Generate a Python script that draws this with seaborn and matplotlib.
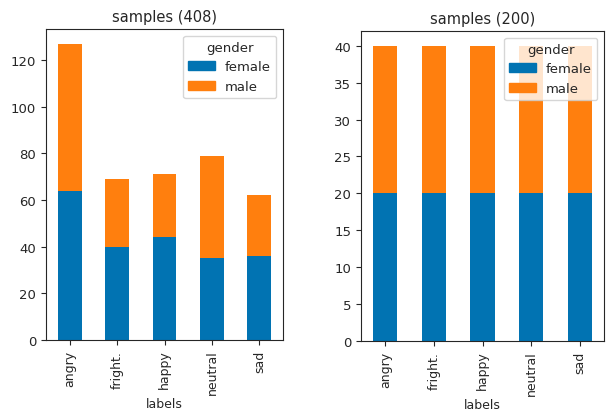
import numpy as np
import pandas as pd
import seaborn as sns
import matplotlib.pyplot as plt
from matplotlib.patches import Patch

labels = ["angry", "fright.", "happy", "neutral", "sad"]
female_all = [64, 40, 44, 35, 36]
male_all = [63, 29, 27, 44, 26]
female_bal = [20, 20, 20, 20, 20]
male_bal = [20, 20, 20, 20, 20]

blue = "#0173b2"
orange = "#ff7f0e"


def stacked(ax, female, male, title):
    df = pd.DataFrame({"labels": labels, "female": female, "male": male})
    df["total"] = df["female"] + df["male"]
    sns.barplot(data=df, x="labels", y="total", color=orange, width=0.5,
                saturation=1, linewidth=0, ax=ax)
    sns.barplot(data=df, x="labels", y="female", color=blue, width=0.5,
                saturation=1, linewidth=0, ax=ax)
    ax.set_xlim(-0.5, len(labels) - 0.5)
    ax.set_ylim(0, df["total"].max() * 1.05)
    ax.set_title(title, fontsize=10.5)
    ax.set_xlabel("labels", fontsize=9, labelpad=2)
    ax.set_ylabel("")
    ax.tick_params(axis="x", rotation=90, labelsize=9)
    ax.tick_params(axis="y", labelsize=9.5)
    handles = [Patch(color=blue, label="female"), Patch(color=orange, label="male")]
    ax.legend(handles=handles, title="gender", loc="upper right", fontsize=9.5,
              title_fontsize=9.5)


sns.set_style("ticks")
fig = plt.figure(figsize=(6.06, 4.14), dpi=100)
ax1 = fig.add_axes([46 / 606, 1 - 341 / 414, 237 / 606, 311 / 414])
ax2 = fig.add_axes([361 / 606, 1 - 342 / 414, 243 / 606, 310 / 414])
stacked(ax1, female_all, male_all, "samples (%d)" % (sum(female_all) + sum(male_all)))
stacked(ax2, female_bal, male_bal, "samples (%d)" % (sum(female_bal) + sum(male_bal)))
for ax in (ax1, ax2):
    for s in ax.spines.values():
        s.set_visible(True)
fig.savefig("out.png", dpi=100)
